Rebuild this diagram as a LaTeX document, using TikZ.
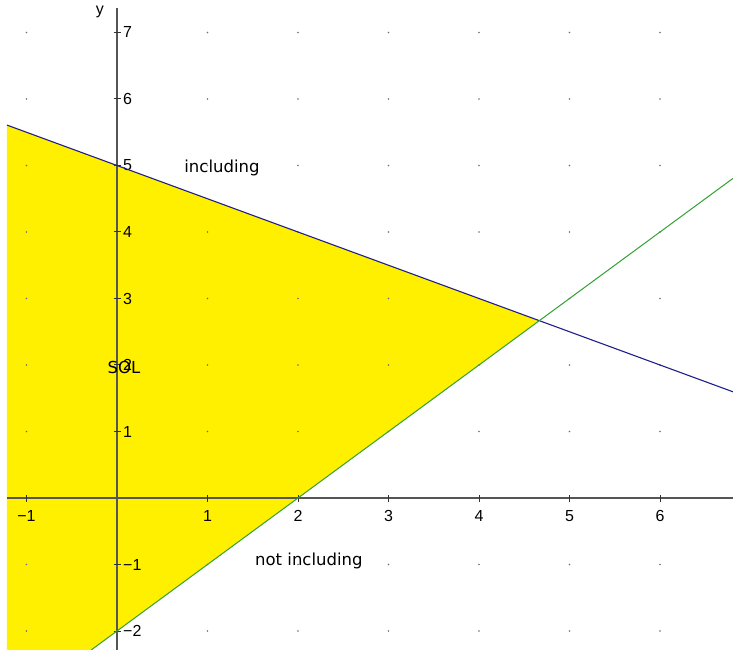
\documentclass[tikz,border=0pt]{standalone}
\usepackage{fontspec}
\setmainfont{DejaVu Sans}
\newfontfamily\numfont{Liberation Sans}
\definecolor{solyellow}{RGB}{255,240,0}
\definecolor{axisgray}{RGB}{85,85,85}
\definecolor{bluel}{RGB}{30,30,140}
\definecolor{greenl}{RGB}{50,160,50}
\definecolor{dotgray}{RGB}{110,110,110}
\tikzset{
  axisline/.style={draw=axisgray, line width=1.6pt},
  tickmark/.style={draw=black!80, line width=1pt},
  blueline/.style={draw=bluel, line width=1.1pt},
  greenline/.style={draw=greenl, line width=1pt},
  numlbl/.style={font=\numfont\fontsize{16}{16}\selectfont, text=black, inner sep=0pt},
  txtlbl/.style={font=\fontsize{16.5}{16.5}\selectfont, text=black, inner sep=0pt}
}
\begin{document}
\begin{tikzpicture}[x=90.5pt,y=66.5pt]
\useasboundingbox (-1.29282,-2.28571) rectangle (6.80663,7.48872);
\coordinate (BL) at (-1.2155,5.6077);
\coordinate (BR) at (6.80663,1.59669);
\coordinate (P) at (4.66667,2.66667);
\coordinate (GB) at (-0.28571,-2.28571);
\coordinate (GR) at (6.80663,4.80663);
\coordinate (LL) at (-1.2155,-2.28571);
\coordinate (XL) at (-1.2155,0);
\coordinate (XR) at (6.80663,0);
\coordinate (YB) at (0,-2.28571);
\coordinate (YT) at (0,7.37);
% solution region
\fill[solyellow] (BL) -- (P) -- (GB) -- (LL) -- cycle;
% grid dots
\foreach \i in {-1,...,6} \foreach \j in {-2,...,7} \fill[dotgray] (\i,\j) circle (0.9pt);
% axes
\draw[axisline] (XL) -- (XR);
\draw[axisline] (YB) -- (YT);
% ticks and labels
\foreach \v/\t in {-1/−1,1/1,2/2,3/3,4/4,5/5,6/6} {
  \draw[tickmark] (\v,0) ++(0,-3.5pt) -- ++(0,7pt);
  \node[numlbl] (xl\v) at (\v,-0.271) {\t};
}
\foreach \v/\t in {-2/−2,-1/−1,1/1,2/2,3/3,4/4,5/5,6/6,7/7} {
  \draw[tickmark] (0,\v) ++(-3.5pt,0) -- ++(7pt,0);
  \node[numlbl, anchor=west] (yl\v) at (0.066,\v) {\t};
}
\node[numlbl] (ylab) at (-0.19,7.31) {y};
% lines
\draw[blueline] (BL) -- (BR);
\draw[greenline] (GB) -- (GR);
% texts
\node[txtlbl] (inc) at (1.16,4.96) {including};
\node[txtlbl] (notinc) at (2.12,-0.95) {not including};
\node[txtlbl] (sol) at (0.077,1.97) {SOL};
\end{tikzpicture}
\end{document}
